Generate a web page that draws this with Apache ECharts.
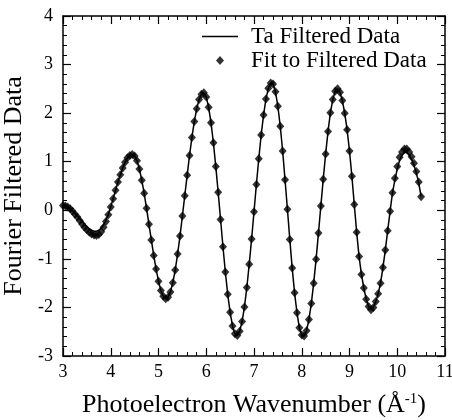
<html>
<head>
    <meta http-equiv="Content-Type" content="text/html; charset=utf-8" />
    <title>Fourier Filtered Data</title>
    <script src="https://cdn.jsdelivr.net/npm/echarts@6/dist/echarts.min.js"></script>
</head>
<body style="padding:0px;margin:0px;overflow:hidden;background:#fff;">
<div id="main" style="width:452px;height:420px;"></div>
<script type="text/javascript">
    // photoelectron wavenumber, 0.05 steps
    var kValues = [
        3, 3.05, 3.1, 3.15, 3.2, 3.25, 3.3, 3.35, 3.4, 3.45, 3.5, 3.55, 3.6, 3.65, 3.7, 3.75, 3.8, 3.85, 3.9, 3.95,
        4, 4.05, 4.1, 4.15, 4.2, 4.25, 4.3, 4.35, 4.4, 4.45, 4.5, 4.55, 4.6, 4.65, 4.7, 4.75, 4.8, 4.85, 4.9, 4.95,
        5, 5.05, 5.1, 5.15, 5.2, 5.25, 5.3, 5.35, 5.4, 5.45, 5.5, 5.55, 5.6, 5.65, 5.7, 5.75, 5.8, 5.85, 5.9, 5.95,
        6, 6.05, 6.1, 6.15, 6.2, 6.25, 6.3, 6.35, 6.4, 6.45, 6.5, 6.55, 6.6, 6.65, 6.7, 6.75, 6.8, 6.85, 6.9, 6.95,
        7, 7.05, 7.1, 7.15, 7.2, 7.25, 7.3, 7.35, 7.4, 7.45, 7.5, 7.55, 7.6, 7.65, 7.7, 7.75, 7.8, 7.85, 7.9, 7.95,
        8, 8.05, 8.1, 8.15, 8.2, 8.25, 8.3, 8.35, 8.4, 8.45, 8.5, 8.55, 8.6, 8.65, 8.7, 8.75, 8.8, 8.85, 8.9, 8.95,
        9, 9.05, 9.1, 9.15, 9.2, 9.25, 9.3, 9.35, 9.4, 9.45, 9.5, 9.55, 9.6, 9.65, 9.7, 9.75, 9.8, 9.85, 9.9, 9.95,
        10, 10.05, 10.1, 10.15, 10.2, 10.25, 10.3, 10.35, 10.4, 10.45, 10.5
    ];

    // Fit to Filtered Data (diamonds)
    var fitValues = [
        0.10, 0.09, 0.07, 0.03, -0.02, -0.08, -0.14, -0.21, -0.28, -0.35, -0.40, -0.45, -0.49, -0.51, -0.52, -0.50, -0.44, -0.35, -0.23, -0.09,
        0.07, 0.24, 0.41, 0.58, 0.73, 0.87, 0.99, 1.08, 1.13, 1.15, 1.12, 1.02, 0.85, 0.62, 0.35, 0.04, -0.29, -0.61, -0.93, -1.21,
        -1.46, -1.65, -1.77, -1.82, -1.79, -1.68, -1.49, -1.23, -0.90, -0.53, -0.12, 0.30, 0.72, 1.13, 1.50, 1.83, 2.09, 2.28, 2.39, 2.42,
        2.33, 2.12, 1.80, 1.39, 0.90, 0.37, -0.19, -0.75, -1.27, -1.73, -2.10, -2.38, -2.54, -2.58, -2.49, -2.29, -1.99, -1.59, -1.11, -0.59,
        -0.03, 0.53, 1.06, 1.55, 1.96, 2.29, 2.51, 2.62, 2.60, 2.44, 2.14, 1.73, 1.22, 0.63, 0.02, -0.60, -1.19, -1.70, -2.11, -2.42,
        -2.57, -2.59, -2.48, -2.25, -1.92, -1.50, -1.01, -0.47, 0.09, 0.64, 1.16, 1.62, 2.01, 2.28, 2.45, 2.50, 2.43, 2.26, 2.00, 1.66,
        1.22, 0.70, 0.12, -0.45, -0.95, -1.32, -1.60, -1.83, -1.98, -2.05, -2.00, -1.88, -1.72, -1.50, -1.18, -0.82, -0.42, -0.02, 0.36, 0.66,
        0.90, 1.09, 1.20, 1.26, 1.26, 1.20, 1.10, 0.97, 0.80, 0.58, 0.28
    ];

    // Ta Filtered Data (line)
    var taValues = [
        0.10, 0.09, 0.07, 0.03, -0.01, -0.06, -0.11, -0.17, -0.23, -0.29, -0.34, -0.38, -0.41, -0.43, -0.43, -0.41, -0.37, -0.30, -0.20, -0.08,
        0.07, 0.24, 0.41, 0.58, 0.73, 0.87, 0.99, 1.08, 1.13, 1.15, 1.12, 1.02, 0.85, 0.62, 0.35, 0.04, -0.29, -0.61, -0.93, -1.21,
        -1.46, -1.65, -1.77, -1.82, -1.79, -1.68, -1.49, -1.23, -0.90, -0.53, -0.12, 0.30, 0.72, 1.13, 1.50, 1.83, 2.09, 2.28, 2.39, 2.42,
        2.33, 2.12, 1.80, 1.39, 0.90, 0.37, -0.19, -0.75, -1.27, -1.73, -2.10, -2.38, -2.54, -2.58, -2.49, -2.29, -1.99, -1.59, -1.11, -0.59,
        -0.03, 0.53, 1.06, 1.55, 1.96, 2.29, 2.51, 2.62, 2.60, 2.44, 2.14, 1.73, 1.22, 0.63, 0.02, -0.60, -1.19, -1.70, -2.11, -2.42,
        -2.57, -2.59, -2.48, -2.25, -1.92, -1.50, -1.01, -0.47, 0.09, 0.64, 1.16, 1.62, 2.01, 2.28, 2.45, 2.50, 2.43, 2.26, 2.00, 1.66,
        1.22, 0.70, 0.12, -0.45, -0.95, -1.32, -1.60, -1.83, -1.98, -2.05, -2.00, -1.88, -1.72, -1.50, -1.18, -0.82, -0.42, -0.02, 0.36, 0.62,
        0.85, 1.03, 1.14, 1.19, 1.19, 1.14, 1.05, 0.93, 0.77, 0.56, 0.28
    ];

    var xTicks = { min: 3, max: 11, interval: 1 };
    var yTicks = { min: -3, max: 4, interval: 1 };

    var font = '"Liberation Serif", "DejaVu Serif", serif';

    function pairs(ys) {
        return kValues.map(function (k, i) { return [k, ys[i]]; });
    }

    function frameAxis(r, pos, labels) {
        return {
            type: 'value',
            position: pos,
            min: r.min, max: r.max, interval: r.interval,
            axisLine: { show: true, onZero: false, lineStyle: { color: '#000', width: 1.5 } },
            axisTick: { show: true, inside: true, length: 8, lineStyle: { color: '#000', width: 1.2 } },
            minorTick: { show: true, splitNumber: 5, length: 4, lineStyle: { color: '#000', width: 1 } },
            splitLine: { show: false },
            axisLabel: { show: labels, color: '#000', fontFamily: font, fontSize: 18, margin: 7 }
        };
    }

    var xMain = frameAxis(xTicks, 'bottom', true);
    xMain.name = 'Photoelectron Wavenumber (\u00c5{sup|-1})';
    xMain.nameLocation = 'middle';
    xMain.nameGap = 36;
    xMain.nameTextStyle = {
        color: '#000', fontFamily: font, fontSize: 26,
        rich: { sup: { fontFamily: font, fontSize: 15, color: '#000', verticalAlign: 'bottom', padding: [0, 0, 12, 0] } }
    };
    var yMain = frameAxis(yTicks, 'left', true);
    yMain.axisLabel.margin = 10;
    yMain.name = 'Fourier Filtered Data';
    yMain.nameLocation = 'middle';
    yMain.nameGap = 22;
    yMain.nameTextStyle = { color: '#000', fontFamily: font, fontSize: 26 };

    var myChart = echarts.init(document.getElementById('main'));

    var option = {
        backgroundColor: '#fff',
        animation: false,
        grid: { left: 63, right: 7, top: 16, bottom: 64, outerBoundsMode: 'none' },
        legend: {
            orient: 'vertical',
            left: 197, top: 20,
            itemWidth: 36, itemHeight: 9, itemGap: 1,
            textStyle: { color: '#000', fontFamily: font, fontSize: 23, padding: [0, 0, 0, 8] },
            data: [
                { name: 'Ta Filtered Data', icon: 'path://M0,4 H36 V5.5 H0 Z' },
                { name: 'Fit to Filtered Data', icon: 'path://M4,0 L8,4.5 L4,9 L0,4.5 Z' }
            ]
        },
        xAxis: [xMain, frameAxis(xTicks, 'top', false)],
        yAxis: [yMain, frameAxis(yTicks, 'right', false)],
        series: [
            {
                name: 'Ta Filtered Data',
                type: 'line',
                data: pairs(taValues),
                symbol: 'none',
                lineStyle: { color: '#000', width: 1.5 },
                itemStyle: { color: '#000' },
                z: 2
            },
            {
                name: 'Fit to Filtered Data',
                type: 'scatter',
                data: pairs(fitValues),
                symbol: 'diamond',
                symbolSize: [8, 9],
                itemStyle: { color: '#000' },
                z: 3
            }
        ]
    };

    myChart.setOption(option);
</script>
</body>
</html>
